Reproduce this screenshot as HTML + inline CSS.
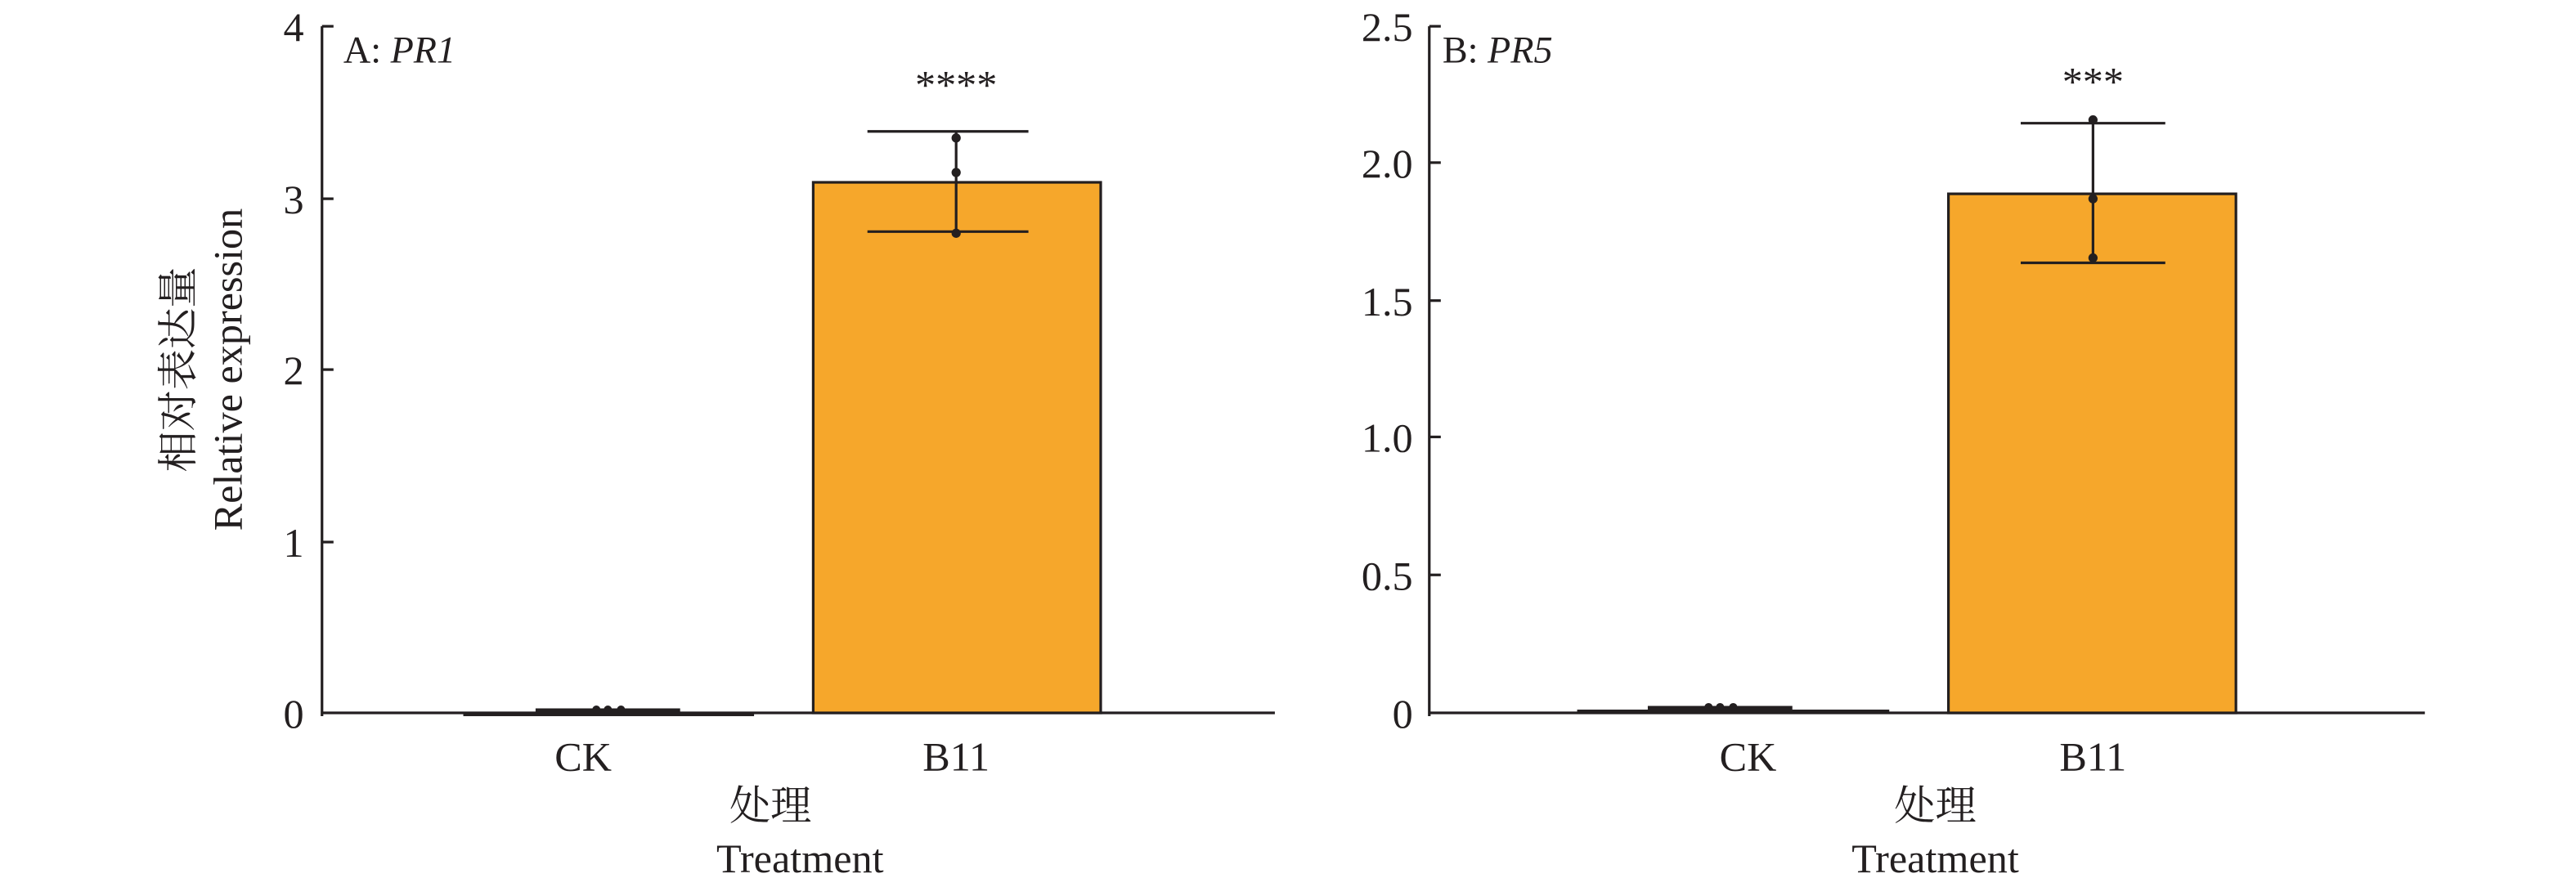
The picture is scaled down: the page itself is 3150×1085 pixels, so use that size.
<!DOCTYPE html>
<html><head><meta charset="utf-8"><style>
html,body{margin:0;padding:0;background:#fff;}
svg{display:block;}
text{font-family:"Liberation Serif","Noto Serif CJK SC",serif;fill:#231f20;}
</style></head><body>
<svg width="3150" height="1085" viewBox="0 0 1568 540" preserveAspectRatio="none" xmlns="http://www.w3.org/2000/svg">
<g stroke="#231f20" stroke-width="1.6" fill="none">
<line x1="196" y1="16" x2="196" y2="436"/>
<line x1="196" y1="434" x2="776" y2="434"/>
<line x1="196" y1="16" x2="203" y2="16"/>
<line x1="196" y1="121" x2="203" y2="121"/>
<line x1="196" y1="225" x2="203" y2="225"/>
<line x1="196" y1="330" x2="203" y2="330"/>
<line x1="870" y1="16" x2="870" y2="436"/>
<line x1="870" y1="434" x2="1476" y2="434"/>
<line x1="870" y1="16" x2="877" y2="16"/>
<line x1="870" y1="99" x2="877" y2="99"/>
<line x1="870" y1="183" x2="877" y2="183"/>
<line x1="870" y1="266" x2="877" y2="266"/>
<line x1="870" y1="350" x2="877" y2="350"/>
</g>
<rect x="282" y="433.5" width="177" height="2.5" fill="#231f20"/>
<rect x="495" y="111" width="175" height="323" fill="#f6a72b" stroke="#231f20" stroke-width="1.6"/>
<g stroke="#231f20" stroke-width="1.6">
<line x1="528" y1="80" x2="626" y2="80"/><line x1="528" y1="141" x2="626" y2="141"/><line x1="582" y1="80" x2="582" y2="141"/>
<line x1="326" y1="432.5" x2="414" y2="432.5" stroke-width="2.5"/>
</g>
<g fill="#231f20"><circle cx="582" cy="84" r="2.8"/><circle cx="582" cy="105" r="2.8"/><circle cx="582" cy="142" r="2.8"/>
<circle cx="363" cy="432" r="2.5"/><circle cx="370" cy="432" r="2.5"/><circle cx="378" cy="432" r="2.5"/></g>
<rect x="960" y="432" width="190" height="2.5" fill="#231f20"/>
<rect x="1186" y="118" width="175" height="316" fill="#f6a72b" stroke="#231f20" stroke-width="1.6"/>
<g stroke="#231f20" stroke-width="1.6">
<line x1="1230" y1="75" x2="1318" y2="75"/><line x1="1230" y1="160" x2="1318" y2="160"/><line x1="1274" y1="75" x2="1274" y2="160"/>
<line x1="1003" y1="431" x2="1091" y2="431" stroke-width="2.5"/>
</g>
<g fill="#231f20"><circle cx="1274" cy="73" r="2.8"/><circle cx="1274" cy="121" r="2.8"/><circle cx="1274" cy="157" r="2.8"/>
<circle cx="1040" cy="430.5" r="2.5"/><circle cx="1047" cy="430.5" r="2.5"/><circle cx="1055" cy="430.5" r="2.5"/></g>
<g font-size="25" text-anchor="end">
<text x="185" y="25">4</text><text x="185" y="130">3</text><text x="185" y="234">2</text><text x="185" y="339">1</text><text x="185" y="443">0</text>
<text x="860" y="25">2.5</text><text x="860" y="108">2.0</text><text x="860" y="192">1.5</text><text x="860" y="275">1.0</text><text x="860" y="359">0.5</text><text x="860" y="443">0</text>
</g>
<g font-size="25" text-anchor="middle">
<text x="355" y="469">CK</text><text x="582" y="469">B11</text>
<text x="469" y="499">处理</text><text x="487" y="531">Treatment</text>
<text x="1064" y="469">CK</text><text x="1274" y="469">B11</text>
<text x="1178" y="499">处理</text><text x="1178" y="531">Treatment</text>
<text x="582" y="60">****</text><text x="1274" y="58">***</text>
</g>
<text x="209" y="38" font-size="23">A: <tspan font-style="italic">PR1</tspan></text>
<text x="878" y="38" font-size="23">B: <tspan font-style="italic">PR5</tspan></text>
<g font-size="25" text-anchor="middle">
<text transform="translate(117,225) rotate(-90)">相对表达量</text>
<text transform="translate(147,225) rotate(-90)">Relative expression</text>
</g>
</svg>
</body></html>
